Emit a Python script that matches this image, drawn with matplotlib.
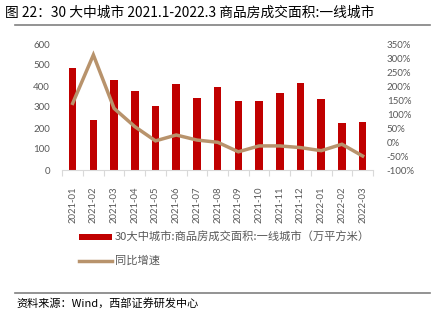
import matplotlib
matplotlib.use("Agg")
import matplotlib.pyplot as plt
import numpy as np
from matplotlib.lines import Line2D

plt.rcParams['font.family'] = ['Noto Sans CJK SC', 'DejaVu Sans']

months = ["2021-01", "2021-02", "2021-03", "2021-04", "2021-05", "2021-06", "2021-07",
          "2021-08", "2021-09", "2021-10", "2021-11", "2021-12", "2022-01", "2022-02", "2022-03"]
area = [484, 238, 428, 375, 305, 410, 345, 394, 329, 329, 367, 414, 337, 222, 230]
yoy = [138, 311, 120, 55, 4, 25, 7, -1, -35, -14, -14, -20, -31, -8, -50]

left_ticks = [0, 100, 200, 300, 400, 500, 600]
right_ticks = [-100, -50, 0, 50, 100, 150, 200, 250, 300, 350]

bar_label = "30大中城市:商品房成交面积:一线城市（万平方米）"
line_label = "同比增速"
title = "图 22：30 大中城市 2021.1-2022.3 商品房成交面积:一线城市"
source = "资料来源：Wind，西部证券研发中心"

W, H = 432, 322
fig = plt.figure(figsize=(W / 100, H / 100), dpi=100)
ax = fig.add_axes([62.3 / W, 1 - 170 / H, (373 - 62.3) / W, (170 - 44) / H])
ax2 = ax.twinx()

x = np.arange(len(months))
bars = ax.bar(x, area, width=0.37, color="#C00000", label=bar_label, zorder=2)
line, = ax2.plot(x, yoy, color="#B8936C", lw=2.5, label=line_label, zorder=3,
                 solid_joinstyle="miter")

ax.set_xlim(-0.5, len(months) - 0.5)
ax.set_ylim(0, 600)
ax2.set_ylim(-100, 350)
ax.set_yticks(left_ticks)
ax2.set_yticks(right_ticks)
ax2.set_yticklabels([f"{v}%" for v in right_ticks])

ax.set_xticks(x)
ax.set_xticklabels(months, rotation=90)
ax.set_xticks(np.arange(-0.5, len(months), 1), minor=True)
ax.tick_params(axis="x", which="major", length=0, pad=12, labelsize=6.8, labelcolor="#595959")
ax.tick_params(axis="x", which="minor", length=4, color="#D9D9D9", width=0.8)
ax.tick_params(axis="y", length=0, pad=9, labelsize=7, labelcolor="#595959")
ax2.tick_params(axis="y", length=0, pad=10, labelsize=7, labelcolor="#595959")

for a in (ax, ax2):
    for s in ("top", "right", "left", "bottom"):
        a.spines[s].set_visible(False)
ax.spines["bottom"].set_visible(True)
ax.spines["bottom"].set_color("#D9D9D9")
ax.spines["bottom"].set_linewidth(0.8)

for lbl in ax.get_xticklabels() + ax.get_yticklabels() + ax2.get_yticklabels():
    lbl.set_family(["Lato", "DejaVu Sans"])

# Legend
fig.legend([bars, line], [bar_label, line_label], loc="upper left",
           bbox_to_anchor=(79 / W, 1 - 232 / H), frameon=False, fontsize=8.1,
           handlelength=2.9, handleheight=0.5, handletextpad=0.3, labelspacing=1.15,
           borderpad=0, borderaxespad=0, labelcolor="#595959")

# Title and source
fig.text(5 / W, 1 - 13 / H, title, fontsize=9.9, va="center", ha="left", color="#000000")
fig.add_artist(Line2D([15 / W, 430 / W], [1 - 25 / H, 1 - 25 / H], color="#808080", lw=1.2))
fig.add_artist(Line2D([15 / W, 430 / W], [1 - 293 / H, 1 - 293 / H], color="#808080", lw=1.2))
fig.text(16 / W, 1 - 303 / H, source, fontsize=8.0, va="center", ha="left", color="#000000")

fig.savefig("out.png", dpi=100)
